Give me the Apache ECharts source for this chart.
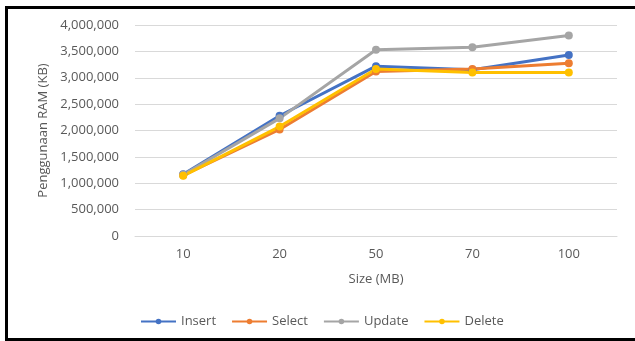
<!DOCTYPE html>
<html>
<head>
<meta charset="utf-8">
<script src="https://cdn.jsdelivr.net/npm/echarts@6/dist/echarts.min.js"></script>
<style>
  html, body { margin: 0; padding: 0; background: #fff; overflow: hidden; }
  #frame { position: absolute; left: 5px; top: 6px; width: 660px; height: 335px; border: 3px solid #000; box-sizing: border-box; }
  #main { position: absolute; left: 0; top: 0; width: 635px; height: 341px; }
</style>
</head>
<body>
<div id="frame"></div>
<div id="main"></div>
<script>
// x categories (file size)
var sizes = ['10', '20', '50', '70', '100'];

// RAM usage in KB
var insert = [1170000, 2280000, 3220000, 3150000, 3430000];
var select = [1150000, 2020000, 3120000, 3165000, 3275000];
var update = [1160000, 2230000, 3530000, 3580000, 3800000];
var del    = [1140000, 2075000, 3165000, 3100000, 3100000];

var myChart = echarts.init(document.getElementById('main'));
var textColor = '#595959';
var fontFam = 'Open Sans';

function lineSeries(name, data, color) {
  return {
    name: name,
    type: 'line',
    data: data,
    symbol: 'circle',
    symbolSize: 8,
    lineStyle: { width: 3, color: color },
    itemStyle: { color: color }
  };
}

var option = {
  animation: false,
  textStyle: { fontFamily: fontFam },
  grid: { left: 135, right: 18, top: 25, bottom: 105 },
  legend: {
    top: 310,
    left: 135,
    itemWidth: 35,
    itemHeight: 7,
    itemGap: 15,
    textStyle: { color: textColor, fontSize: 13, fontFamily: fontFam },
    data: ['Insert', 'Select', 'Update', 'Delete']
  },
  xAxis: {
    type: 'category',
    data: sizes,
    name: 'Size (MB)',
    nameLocation: 'middle',
    nameGap: 37,
    nameTextStyle: { color: textColor, fontSize: 13 },
    axisTick: { show: false },
    axisLine: { lineStyle: { color: '#d9d9d9' } },
    axisLabel: { color: textColor, fontSize: 13, margin: 12 }
  },
  yAxis: {
    type: 'value',
    min: 0,
    max: 4000000,
    interval: 500000,
    name: 'Penggunaan RAM (KB)',
    nameLocation: 'middle',
    nameGap: 84,
    nameTextStyle: { color: textColor, fontSize: 13 },
    axisLabel: {
      color: textColor,
      fontSize: 13,
      margin: 16,
      formatter: function (v) { return v.toLocaleString('en-US'); }
    },
    splitLine: { lineStyle: { color: '#d9d9d9' } }
  },
  series: [
    lineSeries('Insert', insert, '#4472C4'),
    lineSeries('Select', select, '#ED7D31'),
    lineSeries('Update', update, '#A5A5A5'),
    lineSeries('Delete', del, '#FFC000')
  ]
};

myChart.setOption(option);
</script>
</body>
</html>
